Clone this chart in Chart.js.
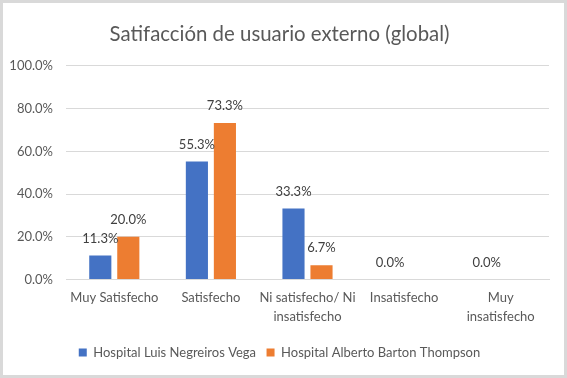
<!DOCTYPE html>
<html>
<head>
<meta charset="utf-8">
<script src="https://cdn.jsdelivr.net/npm/chart.js@4"></script>
<style>
  html, body { margin: 0; padding: 0; background: #fff; }
  #wrap { width: 567px; height: 378px; }
</style>
</head>
<body>
<div id="wrap"><canvas id="myChart" width="567" height="378"></canvas></div>
<script>
const labels = [
  'Muy Satisfecho',
  'Satisfecho',
  ['Ni satisfecho/ Ni', 'insatisfecho'],
  'Insatisfecho',
  ['Muy', 'insatisfecho']
];

const luisNegreiros = [11.3, 55.3, 33.3, 0.0, 0.0];
const albertoBarton = [20.0, 73.3, 6.7, null, null];

const yTicks = [0, 20, 40, 60, 80, 100];

const textColor = '#595959';
const fontFamily = 'Lato, "Liberation Sans", sans-serif';

// fondo blanco y marco gris
const frame = {
  id: 'frame',
  beforeDraw(chart) {
    const ctx = chart.ctx;
    ctx.save();
    ctx.fillStyle = '#fff';
    ctx.fillRect(0, 0, chart.width, chart.height);
    ctx.strokeStyle = '#d9d9d9';
    ctx.lineWidth = 3;
    ctx.strokeRect(1.5, 1.5, chart.width - 3, chart.height - 3);
    ctx.restore();
  }
};

// etiquetas de valor sobre cada barra
const valueLabels = {
  id: 'valueLabels',
  afterDatasetsDraw(chart) {
    const ctx = chart.ctx;
    ctx.save();
    ctx.fillStyle = '#404040';
    ctx.font = '13px ' + fontFamily;
    ctx.textAlign = 'center';
    ctx.textBaseline = 'middle';
    chart.data.datasets.forEach((ds, i) => {
      chart.getDatasetMeta(i).data.forEach((bar, j) => {
        const v = ds.data[j];
        if (v === null) return;
        ctx.fillText(v.toFixed(1) + '%', bar.x, bar.y - 17);
      });
    });
    ctx.restore();
  }
};

const myChart = new Chart(document.getElementById('myChart'), {
  type: 'bar',
  data: {
    labels,
    datasets: [
      {
        label: 'Hospital Luis Negreiros Vega',
        data: luisNegreiros,
        backgroundColor: '#4472C4',
        categoryPercentage: 0.58,
        barPercentage: 0.79
      },
      {
        label: 'Hospital Alberto Barton Thompson',
        data: albertoBarton,
        backgroundColor: '#ED7D31',
        categoryPercentage: 0.58,
        barPercentage: 0.79
      }
    ]
  },
  options: {
    responsive: false,
    animation: false,
    layout: { padding: { left: 10, right: 18, top: 10, bottom: 9 } },
    scales: {
      x: {
        grid: { display: false, drawTicks: false },
        border: { display: true, color: '#d9d9d9' },
        ticks: {
          color: textColor,
          font: { family: fontFamily, size: 13, lineHeight: 1.46 },
          padding: 9,
          maxRotation: 0,
          autoSkip: false
        }
      },
      y: {
        min: 0,
        max: 100,
        afterFit: s => { s.width = 56; },
        afterBuildTicks: s => { s.ticks = yTicks.map(v => ({ value: v })); },
        grid: { color: '#d9d9d9', drawTicks: false },
        border: { display: false },
        ticks: {
          color: textColor,
          font: { family: fontFamily, size: 13 },
          padding: 13,
          callback: v => v.toFixed(1) + '%'
        }
      }
    },
    plugins: {
      title: {
        display: true,
        text: 'Satifacción de usuario externo (global)',
        color: textColor,
        font: { family: fontFamily, size: 20.4, weight: 'normal' },
        padding: { top: 12, bottom: 19.5 }
      },
      legend: {
        position: 'bottom',
        labels: {
          color: textColor,
          font: { family: fontFamily, size: 13 },
          boxWidth: 8,
          boxHeight: 8,
          padding: 10.5
        }
      },
      tooltip: { enabled: false }
    }
  },
  plugins: [frame, valueLabels]
});
</script>
</body>
</html>
